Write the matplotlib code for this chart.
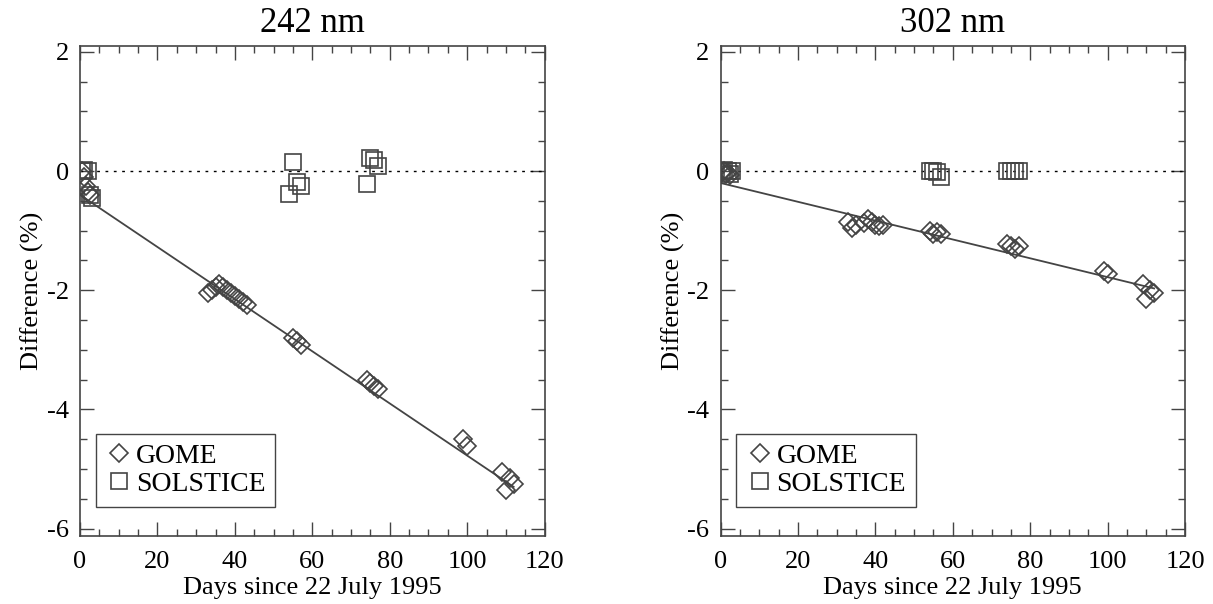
import numpy as np
import matplotlib.pyplot as plt
from matplotlib.ticker import MultipleLocator

plt.rcParams['font.family'] = ['Liberation Serif', 'DejaVu Serif']
plt.rcParams['axes.unicode_minus'] = False

# 242 nm panel
gome_x_242 = [0.5, 1.0, 1.5, 2.0, 2.5, 33, 34, 35, 36, 37, 38, 39, 40, 41, 42, 43,
              55, 56, 57, 74, 75, 76, 77, 99, 100, 109, 110, 111, 112]
gome_y_242 = [0.0, -0.1, -0.25, -0.35, -0.4, -2.05, -2.0, -1.95, -1.9, -1.95, -2.0, -2.05,
              -2.1, -2.15, -2.2, -2.25, -2.8, -2.85, -2.92, -3.5, -3.55, -3.6, -3.65,
              -4.5, -4.62, -5.05, -5.35, -5.15, -5.25]
sol_x_242 = [0.5, 1.0, 2.0, 2.5, 3.0, 54, 55, 56, 57, 74, 75, 76, 77]
sol_y_242 = [0.0, 0.02, 0.0, -0.4, -0.45, -0.38, 0.15, -0.18, -0.25, -0.22, 0.22, 0.18, 0.08]
fit_242 = [-0.4, -5.3]

# 302 nm panel
gome_x_302 = [0.5, 1.0, 1.5, 2.0, 2.5, 33, 34, 35, 37, 38, 39, 40, 41, 42,
              54, 55, 56, 57, 74, 75, 76, 77, 99, 100, 109, 110, 111, 112]
gome_y_302 = [-0.02, 0.0, -0.05, -0.03, -0.06, -0.85, -0.95, -0.9, -0.88, -0.8, -0.85, -0.9,
              -0.92, -0.9, -1.0, -1.05, -1.02, -1.05, -1.22, -1.25, -1.3, -1.25,
              -1.68, -1.72, -1.9, -2.15, -2.0, -2.05]
sol_x_302 = [0.5, 1.0, 2.0, 2.5, 3.0, 54, 55, 56, 57, 74, 75, 76, 77]
sol_y_302 = [0.0, 0.02, 0.0, -0.05, 0.0, 0.0, 0.0, -0.02, -0.1, 0.0, 0.0, 0.0, 0.0]
fit_302 = [-0.2, -1.97]

fit_x = [0, 112]

fig = plt.figure(figsize=(12.13, 6.04), dpi=100)
ax1 = fig.add_axes([0.066, 0.113, 0.383, 0.811])
ax2 = fig.add_axes([0.594, 0.113, 0.383, 0.811])

gray = '#444444'
panels = [
    (ax1, '242 nm', gome_x_242, gome_y_242, sol_x_242, sol_y_242, fit_242),
    (ax2, '302 nm', gome_x_302, gome_y_302, sol_x_302, sol_y_302, fit_302),
]

for ax, title, gx, gy, sx, sy, fit in panels:
    ax.axhline(0, color='black', lw=1, ls=(0, (2, 4)))
    ax.plot(fit_x, fit, color=gray, lw=1.3)
    ax.plot(gx, gy, ls='none', marker='D', ms=9.5, mfc='none', mec=gray, mew=1.2, label='GOME')
    ax.plot(sx, sy, ls='none', marker='s', ms=12, mfc='none', mec=gray, mew=1.2, label='SOLSTICE')
    ax.set_xlim(0, 120)
    ax.set_ylim(-6.12, 2.1)
    ax.xaxis.set_major_locator(MultipleLocator(20))
    ax.xaxis.set_minor_locator(MultipleLocator(5))
    ax.yaxis.set_major_locator(MultipleLocator(2))
    ax.yaxis.set_minor_locator(MultipleLocator(0.5))
    ax.tick_params(which='both', direction='in', top=True, right=True,
                   labelsize=19, color=gray)
    ax.tick_params(axis='x', pad=11)
    ax.tick_params(axis='y', pad=8)
    ax.tick_params(which='major', length=10, width=1)
    ax.tick_params(which='minor', length=5, width=1)
    for s in ax.spines.values():
        s.set_color(gray)
        s.set_linewidth(1.2)
    ax.set_title(title, fontsize=25, pad=10)
    ax.set_xlabel('Days since 22 July 1995', fontsize=19, labelpad=3)
    ax.set_ylabel('Difference (%)', fontsize=19, labelpad=2)
    leg = ax.legend(loc='lower left', fontsize=20, handletextpad=0.1, handlelength=1.0,
                    borderpad=0.35, labelspacing=0.1, fancybox=False, framealpha=1,
                    borderaxespad=0, bbox_to_anchor=(0.034, 0.059))
    leg.get_frame().set_edgecolor(gray)
    leg.get_frame().set_linewidth(1.0)

fig.savefig('out.png', dpi=100)
